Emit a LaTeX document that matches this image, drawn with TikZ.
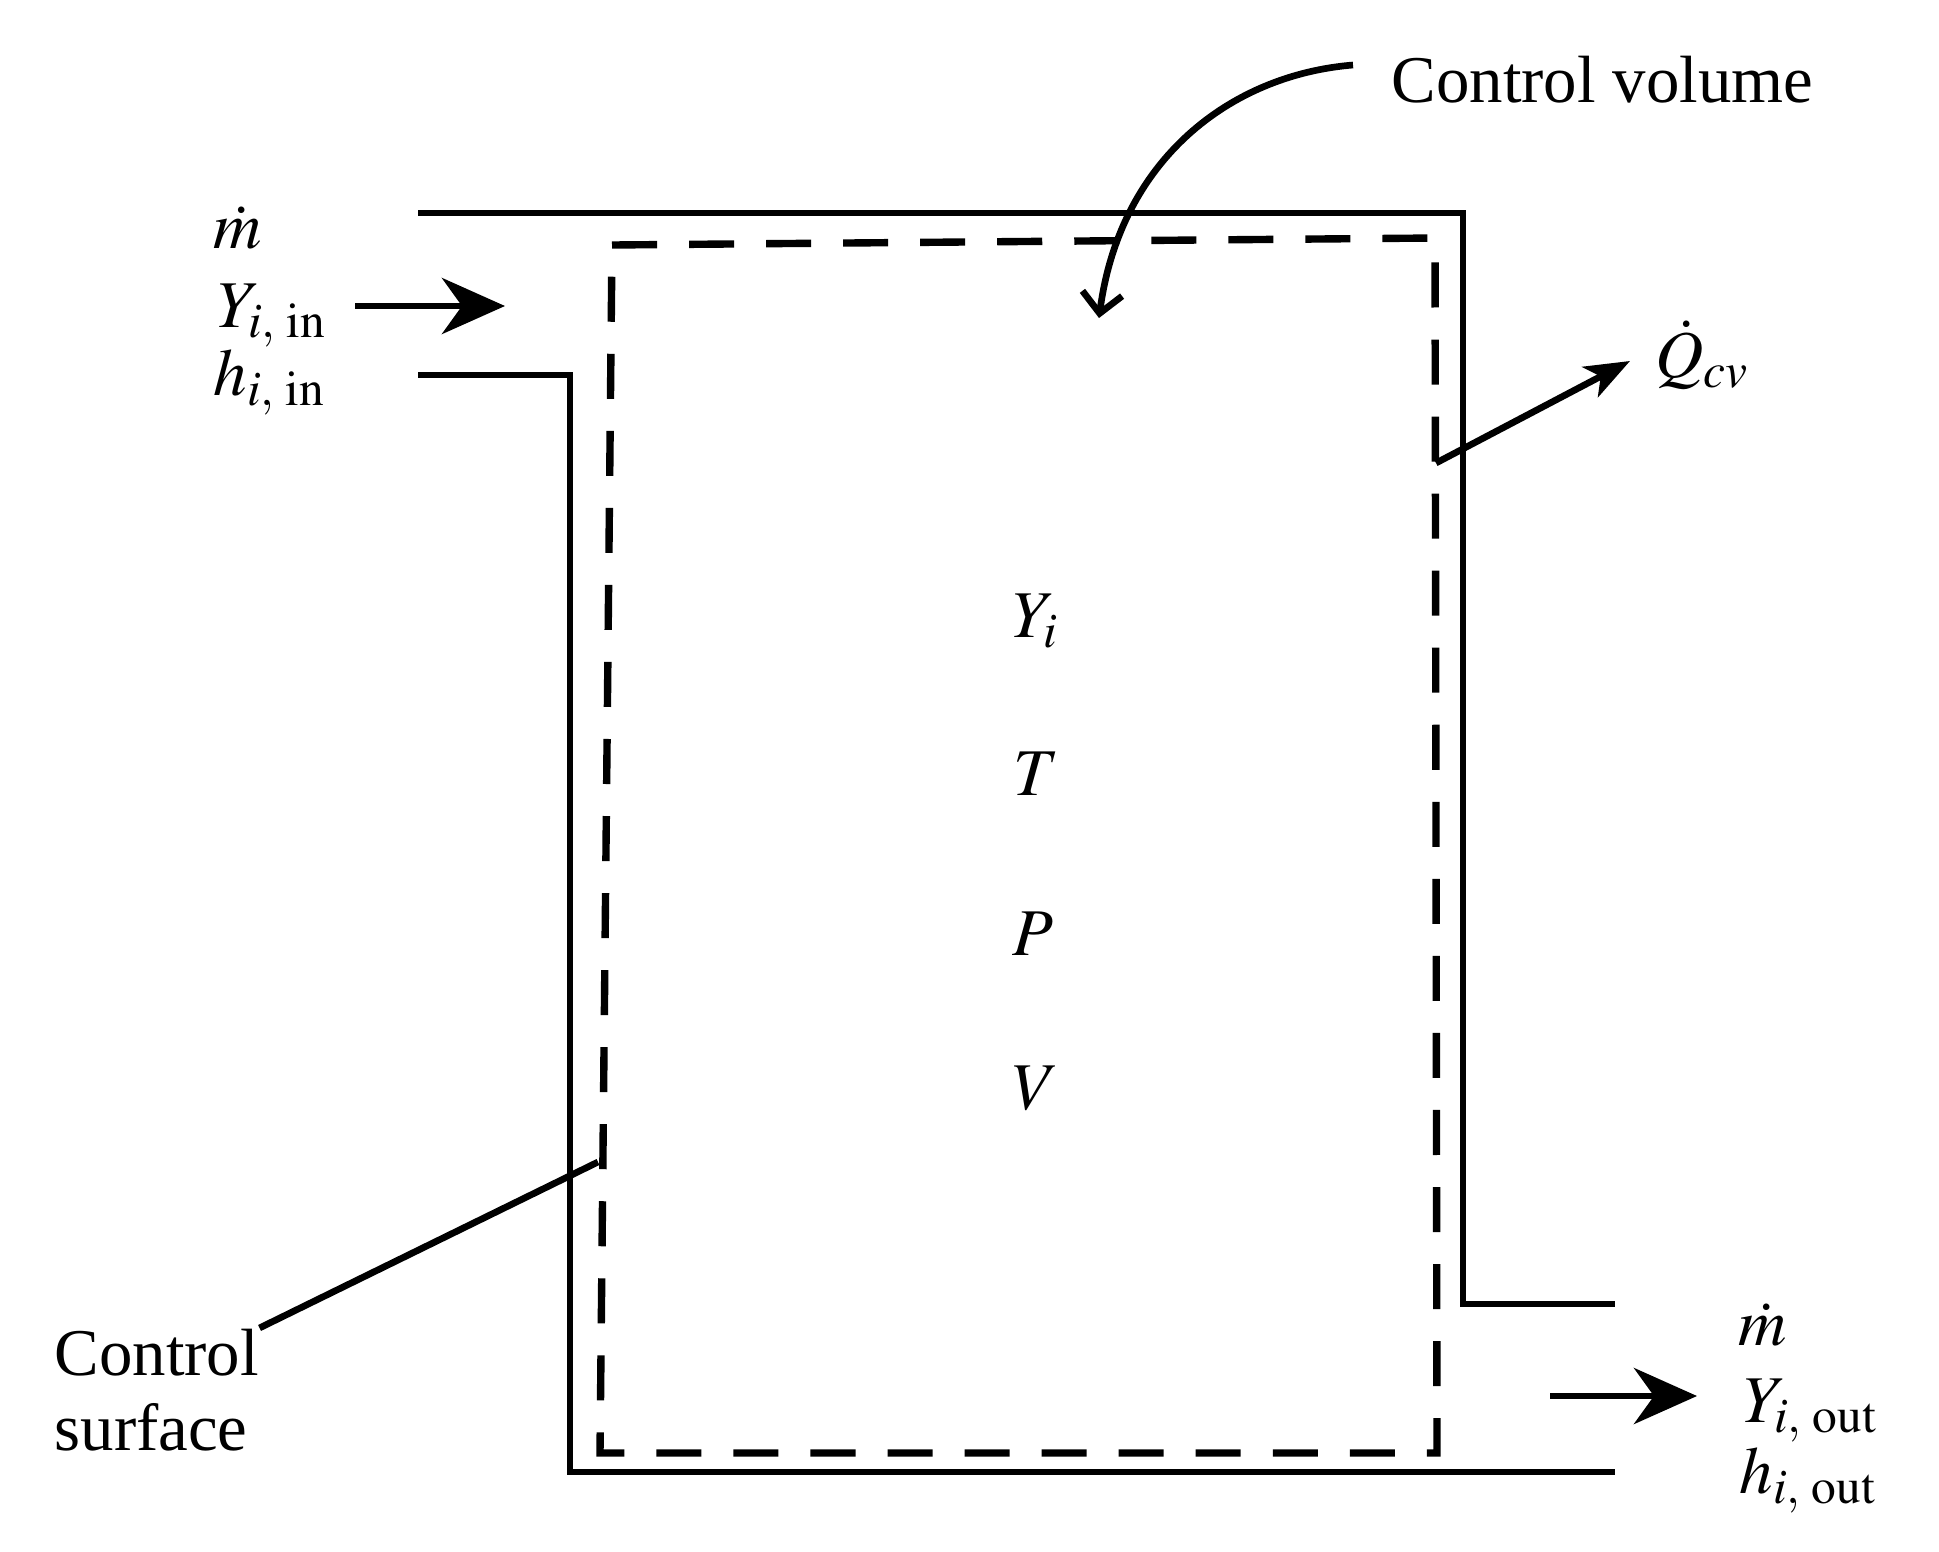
\documentclass[tikz,border=0pt]{standalone}
\usepackage{mathptmx}
\usepackage{fontspec}
\setmainfont{Liberation Serif}
\usetikzlibrary{arrows.meta, calc, positioning}

\begin{document}
\begin{tikzpicture}[x=0.01cm, y=-0.01cm,
        wall/.style={line width=1.7pt, line join=miter},
        cvline/.style={line width=2.1pt, dash pattern=on 0.45cm off 0.32cm},
        flowarrow/.style={line width=1.9pt, -{Stealth[length=0.63cm, width=0.56cm, inset=0.2cm]}},
        heatarrow/.style={line width=1.9pt, -{Stealth[length=0.45cm, width=0.34cm, inset=0.12cm]}},
        pointer/.style={line width=1.9pt},
        lbl/.style={inner sep=0pt, anchor=base west, font=\fontsize{19}{23}\selectfont},
        state/.style={inner sep=0pt, anchor=base, font=\fontsize{19}{23}\selectfont}]
    \useasboundingbox (0,0) rectangle (1939,1551);

    % walls of the vessel
    \draw [wall] (418,213) -- (1463,213) -- (1463,1304) -- (1615,1304);
    \draw [wall] (418,375) -- (570,375) -- (570,1472) -- (1615,1472);

    % control surface
    \draw [cvline] (612,245) -- (1435,238) -- (1437,1453) -- (600,1453) -- cycle;

    % inlet
    \node[lbl] (inm) at (213,248) {$\dot{m}$};
    \node[lbl] (inY) at (217,327) {$Y_{i,\;\mathrm{in}}$};
    \node[lbl] (inh) at (213,395) {$h_{i,\;\mathrm{in}}$};
    \coordinate (inA) at (355,306);
    \coordinate (inB) at (505,306);
    \draw [flowarrow] (inA) -- (inB);

    % outlet
    \node[lbl] (outm) at (1738,1345) {$\dot{m}$};
    \node[lbl] (outY) at (1743,1422) {$Y_{i,\;\mathrm{out}}$};
    \node[lbl] (outh) at (1739,1493) {$h_{i,\;\mathrm{out}}$};
    \coordinate (outA) at (1550,1396);
    \coordinate (outB) at (1697,1396);
    \draw [flowarrow] (outA) -- (outB);

    % heat transfer
    \node[lbl] (Qcv) at (1655,377) {$\dot{Q}_{cv}$};
    \coordinate (qA) at (1436,463);
    \coordinate (qB) at (1630,361);
    \draw [heatarrow] (qA) -- (qB);

    % state inside
    \node[state] (Yi) at (1036,637) {$Y_i$};
    \node[state] (T) at (1036,795) {$T$};
    \node[state] (P) at (1033,955) {$P$};
    \node[state] (V) at (1036,1109) {$V$};

    % labels with pointers
    \node[lbl] (cvlabel) at (1391,102) {Control volume};
    \coordinate (cvA) at (1353,65);
    \coordinate (cvTip) at (1099,318);
    \draw [pointer, -{Straight Barb[length=0.2cm, width=0.4cm]}] (cvA) .. controls (1230,75) and (1120,160) .. (cvTip);

    \node[lbl] (csline1) at (54,1375) {Control};
    \node[lbl] (csline2) at (54,1450) {surface};
    \coordinate (csTip) at (598,1162);
    \draw [pointer] (csline1.north east) -- (csTip);
\end{tikzpicture}
\end{document}
